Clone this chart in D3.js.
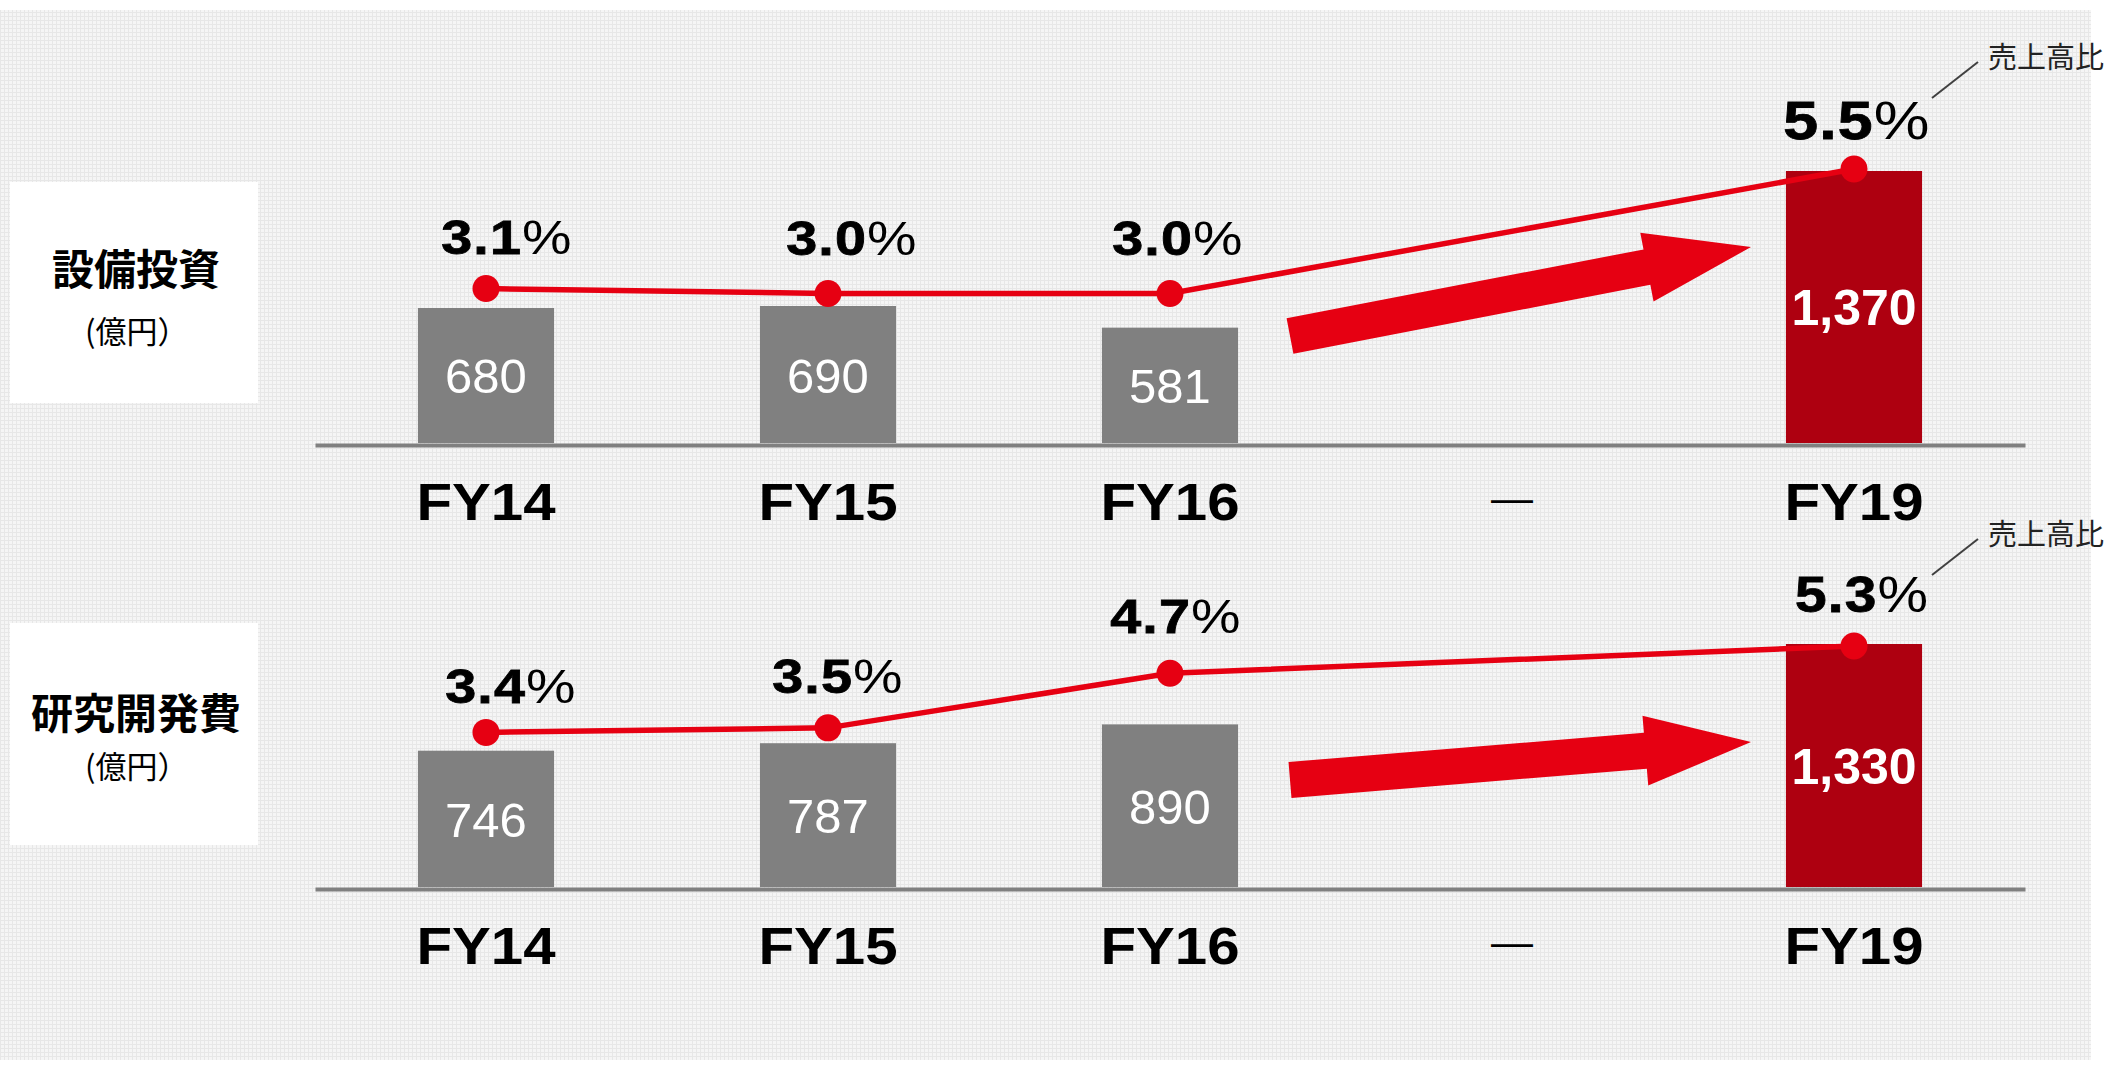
<!DOCTYPE html>
<html>
<head>
<meta charset="utf-8">
<script src="https://cdn.jsdelivr.net/npm/d3@7"></script>
<style>
  body { margin: 0; background: #fff; }
</style>
</head>
<body>
<svg id="chart"></svg>
<script>
// chart values
const categories = ['FY14', 'FY15', 'FY16', '—', 'FY19'];
const capexValues = [680, 690, 581, null, 1370];
const capexRatio = [3.1, 3.0, 3.0, null, 5.5];
const rndValues = [746, 787, 890, null, 1330];
const rndRatio = [3.4, 3.5, 4.7, null, 5.3];
const panelTitles = ['設備投資', '研究開発費'];
const unitLabel = '(億円）';
const ratioLabel = '売上高比';
const highlight = 'FY19';

const LATIN = '"Liberation Sans", Arial, sans-serif';
const CJK = '"Noto Sans CJK JP", "Noto Sans CJK SC", sans-serif';
const RED = '#e60012';

// layout of the two panels
const panels = [
    {title: panelTitles[0], values: capexValues, ratios: capexRatio,
     base: 443, barTop: 171, pctTop: 169, boxY: 182, boxH: 221, titleY: 285, unitY: 343,
     arrowRise: 196, pctSize: [48, 48, 48, 54],
     nudge: [[21, -35], [24, -39], [8, -39], [3, -30]]},
    {title: panelTitles[1], values: rndValues, ratios: rndRatio,
     base: 887, barTop: 644, pctTop: 646, boxY: 623, boxH: 222, titleY: 729, unitY: 778,
     arrowRise: 145, pctSize: [48, 48, 48, 49],
     nudge: [[25, -29], [10, -35], [6, -40], [8, -34]]}
];

const W = 2112, H = 1067;
const svg = d3.select('#chart').attr('width', W).attr('height', H);

// textured light grey backdrop
const pat = svg.append('defs').append('pattern')
    .attr('id', 'grain').attr('width', 4).attr('height', 4)
    .attr('patternUnits', 'userSpaceOnUse');
pat.append('rect').attr('width', 4).attr('height', 4).attr('fill', '#f5f5f5');
pat.append('rect').attr('width', 4).attr('height', 1).attr('fill', '#e7e7e7');
pat.append('rect').attr('width', 1).attr('height', 4).attr('fill', '#e7e7e7');
svg.append('rect').attr('x', 0).attr('y', 10).attr('width', 2091).attr('height', 1050)
    .attr('fill', 'url(#grain)');

// shared category scale
const x = d3.scaleBand().domain(categories).range([315, 2025])
    .paddingInner(0.602).paddingOuter(0.301);
const cx = c => x(c) + x.bandwidth() / 2;

panels.forEach(function(p) {
    const g = svg.append('g');

    // title box
    g.append('rect').attr('x', 10).attr('y', p.boxY).attr('width', 248).attr('height', p.boxH)
        .attr('fill', '#fff');
    g.append('text').attr('x', 136).attr('y', p.titleY).attr('text-anchor', 'middle')
        .attr('font-family', CJK).attr('font-weight', 700).attr('font-size', 42)
        .attr('fill', '#000').text(p.title);
    g.append('text').attr('x', 85).attr('y', p.unitY)
        .attr('font-family', CJK).attr('font-size', 31).attr('fill', '#000').text(unitLabel);

    const rows = categories
        .map((c, i) => ({cat: c, value: p.values[i], ratio: p.ratios[i]}))
        .filter(d => d.value != null);

    const y = d3.scaleLinear().domain([0, d3.max(rows, d => d.value)]).range([p.base, p.barTop]);
    const yr = d3.scaleLinear().domain([0, d3.max(rows, d => d.ratio)]).range([p.base, p.pctTop]);

    // bars
    g.selectAll('rect.bar').data(rows).join('rect')
        .attr('class', 'bar')
        .attr('x', d => x(d.cat))
        .attr('y', d => y(d.value))
        .attr('width', x.bandwidth())
        .attr('height', d => y(0) - y(d.value))
        .attr('fill', d => d.cat === highlight ? '#ae0010' : '#808080');

    // values inside bars
    g.selectAll('text.val').data(rows).join('text')
        .attr('class', 'val')
        .attr('x', d => cx(d.cat))
        .attr('y', d => (y(d.value) + y(0)) / 2 + 18)
        .attr('text-anchor', 'middle')
        .attr('font-family', LATIN)
        .attr('font-size', d => d.cat === highlight ? 50 : 49)
        .attr('font-weight', d => d.cat === highlight ? 700 : 400)
        .attr('fill', '#fff')
        .text(d => d3.format(',')(d.value));

    // axis line + category labels
    const ag = g.append('g').attr('transform', `translate(0,${p.base + 2})`)
        .call(d3.axisBottom(x).tickSize(0).tickSizeOuter(0));
    ag.select('.domain').attr('stroke', '#808080').attr('stroke-width', 4);
    ag.selectAll('.tick text')
        .attr('dy', null)
        .attr('fill', '#000')
        .each(function(c) {
            const t = d3.select(this);
            if (c === '—') {
                t.attr('y', 67).attr('font-family', LATIN).attr('font-size', 42)
                    .attr('font-weight', 400);
            } else {
                t.attr('y', 75).attr('font-family', LATIN).attr('font-size', 52)
                    .attr('font-weight', 700).attr('transform', 'scale(1.12,1)');
            }
        });

    // big trend arrow
    const tail = [cx('FY16') + 120, p.base - 107];
    const tip = [cx('FY19') - 103, p.base - p.arrowRise];
    const len = Math.hypot(tip[0] - tail[0], tip[1] - tail[1]);
    const ang = Math.atan2(tip[1] - tail[1], tip[0] - tail[0]) * 180 / Math.PI;
    const hl = 106, sw = 18, hw = 35;
    const pts = [[0, -sw], [len - hl, -sw], [len - hl, -hw], [len, 0],
                 [len - hl, hw], [len - hl, sw], [0, sw]];
    g.append('polygon')
        .attr('points', pts.map(q => q.join(',')).join(' '))
        .attr('transform', `translate(${tail[0]},${tail[1]}) rotate(${ang})`)
        .attr('fill', RED);

    // ratio line
    const line = d3.line().x(d => cx(d.cat)).y(d => yr(d.ratio));
    g.append('path').datum(rows)
        .attr('d', line)
        .attr('fill', 'none')
        .attr('stroke', RED)
        .attr('stroke-width', 5.5);
    g.selectAll('circle.dot').data(rows).join('circle')
        .attr('class', 'dot')
        .attr('cx', d => cx(d.cat))
        .attr('cy', d => yr(d.ratio))
        .attr('r', 13.5)
        .attr('fill', RED);

    // ratio labels
    rows.forEach(function(d, i) {
        const lx = cx(d.cat) + p.nudge[i][0],
              ly = yr(d.ratio) + p.nudge[i][1];
        const t = g.append('text')
            .attr('transform', `translate(${lx},${ly}) scale(1.16,1)`)
            .attr('text-anchor', 'middle')
            .attr('font-family', LATIN)
            .attr('font-size', p.pctSize[i])
            .attr('letter-spacing', 1)
            .attr('fill', '#000');
        t.append('tspan').attr('font-weight', 700)
            .attr('stroke', '#000').attr('stroke-width', 0.8)
            .text(d3.format('.1f')(d.ratio));
        t.append('tspan').attr('font-weight', 400).text('%');
    });

    // "売上高比" callout next to the highlighted point
    const last = rows[rows.length - 1];
    const px = cx(last.cat), py = yr(last.ratio);
    g.append('line')
        .attr('x1', px + 78).attr('y1', py - 71)
        .attr('x2', px + 124).attr('y2', py - 107)
        .attr('stroke', '#404040').attr('stroke-width', 2);
    g.append('text').attr('x', px + 134).attr('y', py - 101)
        .attr('font-family', CJK).attr('font-size', 29).attr('fill', '#222')
        .text(ratioLabel);
});
</script>
</body>
</html>
